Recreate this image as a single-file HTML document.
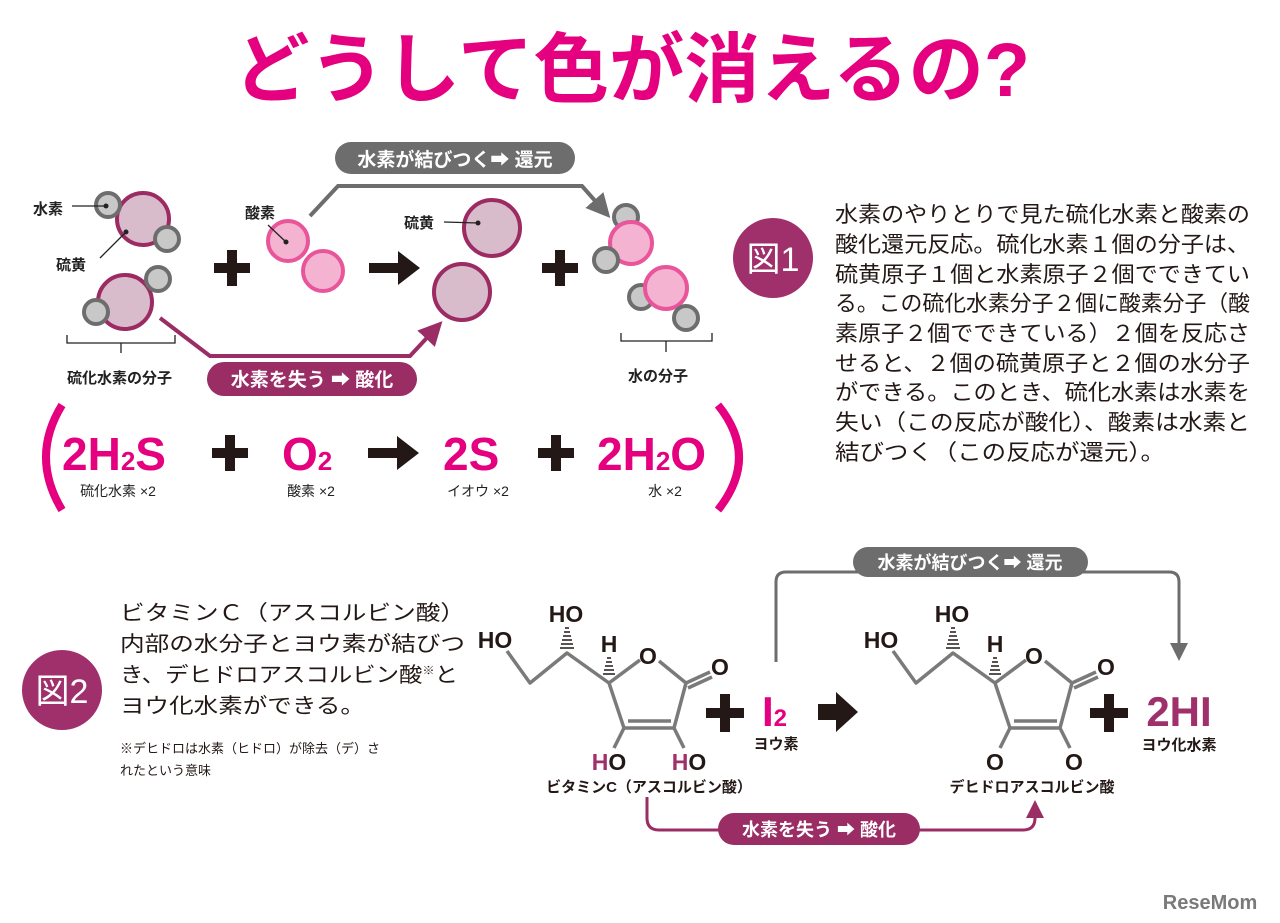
<!DOCTYPE html>
<html><head><meta charset="utf-8"><style>
html,body{margin:0;padding:0;background:#fff;}
svg{display:block;}
text{font-family:"Liberation Sans","Noto Sans CJK JP",sans-serif;}
</style></head><body>
<svg width="1280" height="923" viewBox="0 0 1280 923" xmlns="http://www.w3.org/2000/svg">
<defs>
<marker id="ag" markerWidth="6" markerHeight="6" refX="4" refY="3" orient="auto" markerUnits="strokeWidth"><path d="M0,0 L6,3 L0,6 z" fill="#6d6d6d"/></marker>
<marker id="ap" markerWidth="6" markerHeight="6" refX="4" refY="3" orient="auto" markerUnits="strokeWidth"><path d="M0,0 L6,3 L0,6 z" fill="#9b2d65"/></marker>
</defs>
<!-- Title -->
<text x="632" y="96" text-anchor="middle" font-size="76" font-weight="bold" fill="#e4007f" textLength="796" lengthAdjust="spacingAndGlyphs">どうして色が消えるの?</text>

<!-- top connectors -->
<path d="M310,216 L338,186 L582,186 L605,212" fill="none" stroke="#6d6d6d" stroke-width="4" marker-end="url(#ag)"/>
<rect x="335" y="142" width="240" height="32" rx="16" fill="#6d6d6d"/>
<text x="455" y="166" text-anchor="middle" font-size="19" font-weight="bold" fill="#fff">水素が結びつく➡ 還元</text>
<path d="M160,318 L210,356 L410,356 L437,327" fill="none" stroke="#9b2d65" stroke-width="4" marker-end="url(#ap)"/>
<rect x="207" y="362" width="210" height="34" rx="17" fill="#9b2d65"/>
<text x="312" y="386" text-anchor="middle" font-size="19" font-weight="bold" fill="#fff">水素を失う ➡ 酸化</text>

<!-- H2S molecules -->
<g stroke-width="4">
<circle cx="143" cy="219" r="26" fill="#d8bccb" stroke="#9c2a63"/>
<circle cx="108" cy="205" r="12" fill="#c8c8c8" stroke="#6d6d6d"/>
<circle cx="167" cy="239" r="12" fill="#c8c8c8" stroke="#6d6d6d"/>
<circle cx="125" cy="302" r="27" fill="#d8bccb" stroke="#9c2a63"/>
<circle cx="158" cy="279" r="12" fill="#c8c8c8" stroke="#6d6d6d"/>
<circle cx="96" cy="312" r="12" fill="#c8c8c8" stroke="#6d6d6d"/>
<!-- O2 -->
<circle cx="288" cy="241" r="20" fill="#f4b3d0" stroke="#e9559a"/>
<circle cx="323" cy="271" r="20" fill="#f4b3d0" stroke="#e9559a"/>
<!-- S -->
<circle cx="492" cy="228" r="28" fill="#d8bccb" stroke="#9c2a63"/>
<circle cx="462" cy="292" r="28" fill="#d8bccb" stroke="#9c2a63"/>
<!-- water -->
<circle cx="626" cy="217" r="12" fill="#c8c8c8" stroke="#6d6d6d"/>
<circle cx="631" cy="243" r="21" fill="#f4b3d0" stroke="#e9559a"/>
<circle cx="606" cy="260" r="12" fill="#c8c8c8" stroke="#6d6d6d"/>
<circle cx="641" cy="297" r="12" fill="#c8c8c8" stroke="#6d6d6d"/>
<circle cx="666" cy="288" r="21" fill="#f4b3d0" stroke="#e9559a"/>
<circle cx="686" cy="318" r="12" fill="#c8c8c8" stroke="#6d6d6d"/>
</g>
<g stroke="#222" stroke-width="1.3" fill="none">
<line x1="72" y1="206" x2="106" y2="206"/>
<line x1="100" y1="258" x2="126" y2="232"/>
<line x1="268" y1="225" x2="286" y2="242"/>
<line x1="444" y1="222" x2="478" y2="223"/>
<path d="M67,335 V343 H175 V335 M121,343 V353"/>
<path d="M621,333 V341 H712 V333 M666,341 V352"/>
</g>
<g fill="#222"><circle cx="106" cy="206" r="2.5"/><circle cx="126" cy="232" r="2.5"/><circle cx="286" cy="242" r="2.5"/><circle cx="478" cy="223" r="2.5"/></g>
<g font-size="15" font-weight="bold" fill="#222">
<text x="33" y="214">水素</text>
<text x="56" y="270">硫黄</text>
<text x="245" y="218">酸素</text>
<text x="404" y="228">硫黄</text>
<text x="67" y="383">硫化水素の分子</text>
<text x="628" y="381">水の分子</text>
</g>
<!-- plus & arrows -->
<g fill="#231815">
<rect x="214" y="263" width="36" height="10"/><rect x="227" y="250" width="10" height="36"/>
<rect x="542" y="263" width="36" height="10"/><rect x="555" y="250" width="10" height="36"/>
<path d="M369,263 H398 V251 L420,268 L398,285 V273 H369 z"/>
</g>

<!-- equation -->
<path d="M62,405 Q30,457 62,510" fill="none" stroke="#e4007f" stroke-width="8"/>
<path d="M718,405 Q760,457 718,510" fill="none" stroke="#e4007f" stroke-width="8"/>
<g font-weight="bold" fill="#e4007f">
<text x="62" y="470" font-size="46">2H<tspan font-size="26">2</tspan>S</text>
<text x="282" y="470" font-size="46">O<tspan font-size="26">2</tspan></text>
<text x="443" y="470" font-size="46">2S</text>
<text x="597" y="470" font-size="46">2H<tspan font-size="26">2</tspan>O</text>
</g>
<g fill="#231815">
<rect x="212" y="448" width="36" height="10"/><rect x="225" y="435" width="10" height="36"/>
<rect x="538" y="448" width="36" height="10"/><rect x="551" y="435" width="10" height="36"/>
<path d="M368,448 H397 V436 L419,453 L397,470 V458 H368 z"/>
</g>
<g font-size="14" fill="#222" text-anchor="middle">
<text x="118" y="496">硫化水素 ×2</text>
<text x="311" y="496">酸素 ×2</text>
<text x="478" y="496">イオウ ×2</text>
<text x="665" y="496">水 ×2</text>
</g>

<!-- fig1 -->
<circle cx="773" cy="258" r="40" fill="#a0306b"/>
<text x="773" y="271" text-anchor="middle" font-size="34" fill="#fff">図1</text>
<g font-size="22" fill="#231815">
<text x="835" y="222" textLength="415" lengthAdjust="spacingAndGlyphs">水素のやりとりで見た硫化水素と酸素の</text>
<text x="835" y="252" textLength="415" lengthAdjust="spacingAndGlyphs">酸化還元反応。硫化水素１個の分子は、</text>
<text x="835" y="282" textLength="415" lengthAdjust="spacingAndGlyphs">硫黄原子１個と水素原子２個でできてい</text>
<text x="835" y="311" textLength="415" lengthAdjust="spacingAndGlyphs">る。この硫化水素分子２個に酸素分子（酸</text>
<text x="835" y="341" textLength="415" lengthAdjust="spacingAndGlyphs">素原子２個でできている）２個を反応さ</text>
<text x="835" y="371" textLength="415" lengthAdjust="spacingAndGlyphs">せると、２個の硫黄原子と２個の水分子</text>
<text x="835" y="400" textLength="415" lengthAdjust="spacingAndGlyphs">ができる。このとき、硫化水素は水素を</text>
<text x="835" y="430" textLength="415" lengthAdjust="spacingAndGlyphs">失い（この反応が酸化）、酸素は水素と</text>
<text x="835" y="460" textLength="330" lengthAdjust="spacingAndGlyphs">結びつく（この反応が還元）。</text>
</g>

<!-- fig2 -->
<circle cx="62" cy="690" r="40" fill="#a0306b"/>
<text x="62" y="703" text-anchor="middle" font-size="34" fill="#fff">図2</text>
<g font-size="21" fill="#231815">
<text x="120" y="620" textLength="345" lengthAdjust="spacingAndGlyphs">ビタミンＣ（アスコルビン酸）</text>
<text x="120" y="651" textLength="345" lengthAdjust="spacingAndGlyphs">内部の水分子とヨウ素が結びつ</text>
<text x="120" y="682" textLength="338" lengthAdjust="spacingAndGlyphs">き、デヒドロアスコルビン酸<tspan font-size="11" dy="-8">※</tspan><tspan dy="8">と</tspan></text>
<text x="120" y="713" textLength="245" lengthAdjust="spacingAndGlyphs">ヨウ化水素ができる。</text>
</g>
<g font-size="13" fill="#231815">
<text x="120" y="753">※デヒドロは水素（ヒドロ）が除去（デ）さ</text>
<text x="120" y="775">れたという意味</text>
</g>

<!-- bottom connectors -->
<path d="M776,662 V582 Q776,572 786,572 H1169 Q1179,572 1179,582 V655" fill="none" stroke="#6d6d6d" stroke-width="3" marker-end="url(#ag)"/>
<rect x="853" y="547" width="235" height="30" rx="15" fill="#6d6d6d"/>
<text x="970" y="569" text-anchor="middle" font-size="18" font-weight="bold" fill="#fff">水素が結びつく➡ 還元</text>
<path d="M647,797 V818 Q647,830 659,830 H1023 Q1035,830 1035,818 V806" fill="none" stroke="#9b2d65" stroke-width="3" marker-end="url(#ap)"/>
<rect x="718" y="813" width="202" height="32" rx="16" fill="#9b2d65"/>
<text x="819" y="836" text-anchor="middle" font-size="18" font-weight="bold" fill="#fff">水素を失う ➡ 酸化</text>

<!-- molecules -->
<g id="m1">
<g stroke="#7a7a7a" stroke-width="3.5" fill="none" stroke-linejoin="round">
<path d="M507,651 L530,683 L567,653 L609,683 L624,728 L674,728 L686,683 L659,661"/>
<path d="M609,683 L640,660"/>
<line x1="628" y1="721" x2="671" y2="721"/>
<line x1="686" y1="683" x2="710" y2="672"/>
<line x1="688" y1="688" x2="712" y2="677"/>
<line x1="624" y1="728" x2="614" y2="748"/>
<line x1="674" y1="728" x2="684" y2="748"/>
</g>
<g stroke="#231815" stroke-width="1.5">
<line x1="565" y1="628" x2="569" y2="628"/><line x1="564" y1="632" x2="570" y2="632"/><line x1="563" y1="636" x2="571" y2="636"/><line x1="562" y1="640" x2="572" y2="640"/><line x1="561" y1="644" x2="573" y2="644"/><line x1="560" y1="648" x2="574" y2="648"/>
<line x1="607" y1="658" x2="611" y2="658"/><line x1="606" y1="662" x2="612" y2="662"/><line x1="605" y1="666" x2="613" y2="666"/><line x1="604" y1="670" x2="614" y2="670"/><line x1="603" y1="674" x2="615" y2="674"/>
</g>
<g font-size="23" font-weight="bold" fill="#231815" text-anchor="middle">
<text x="495" y="648">HO</text>
<text x="566" y="622">HO</text>
<text x="609" y="652">H</text>
<text x="648" y="664">O</text>
<text x="720" y="675">O</text>
</g>
</g>
<g font-size="23" font-weight="bold" text-anchor="middle">
<text x="609" y="770" fill="#231815"><tspan fill="#a0306b">H</tspan>O</text>
<text x="689" y="770" fill="#231815"><tspan fill="#a0306b">H</tspan>O</text>
</g>
<text x="649" y="792" text-anchor="middle" font-size="15" font-weight="bold" fill="#231815">ビタミンC（アスコルビン酸）</text>

<use href="#m1" x="386" y="0"/>
<g font-size="23" font-weight="bold" text-anchor="middle" fill="#231815">
<text x="995" y="770">O</text>
<text x="1074" y="770">O</text>
</g>
<text x="1032" y="792" text-anchor="middle" font-size="15" font-weight="bold" fill="#231815">デヒドロアスコルビン酸</text>

<g fill="#231815">
<rect x="706" y="708" width="38" height="10"/><rect x="720" y="694" width="10" height="38"/>
<rect x="1090" y="708" width="38" height="10"/><rect x="1104" y="694" width="10" height="38"/>
<path d="M818,704 H836 V692 L858,712 L836,732 V720 H818 z"/>
</g>
<text x="762" y="726" font-size="42" font-weight="bold" fill="#e4007f">I<tspan font-size="24">2</tspan></text>
<text x="776" y="749" text-anchor="middle" font-size="15" font-weight="bold" fill="#231815">ヨウ素</text>
<text x="1179" y="726" text-anchor="middle" font-size="42" font-weight="bold" fill="#a0306b">2HI</text>
<text x="1179" y="750" text-anchor="middle" font-size="15" font-weight="bold" fill="#231815">ヨウ化水素</text>

<text x="1210" y="909" text-anchor="middle" font-size="20" font-weight="bold" fill="#7a7a7a">ReseMom</text>
</svg>
</body></html>
